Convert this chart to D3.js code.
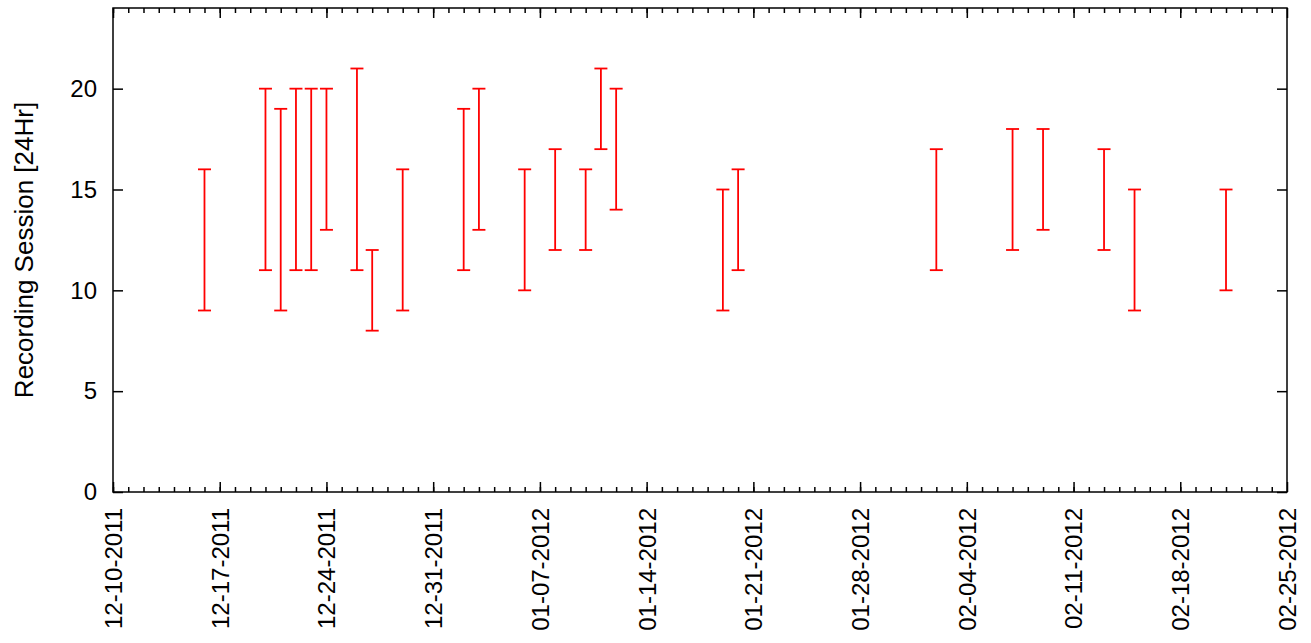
<!DOCTYPE html>
<html>
<head>
<meta charset="utf-8">
<script src="https://cdn.jsdelivr.net/npm/d3@7"></script>
<style>
  body { margin: 0; background: #fff; }
  svg { display: block; font-family: "Liberation Sans", Arial, sans-serif; }
  .axis path, .axis line { stroke: #000; stroke-width: 1.5; }
  .axis text { fill: #000; font-size: 24px; }
</style>
</head>
<body>
<div id="chart-area"></div>
<script>
// session days and their start / end hour
var days = ["12-16-2011", "12-20-2011", "12-21-2011", "12-22-2011", "12-23-2011", "12-24-2011",
    "12-26-2011", "12-27-2011", "12-29-2011", "01-02-2012", "01-03-2012", "01-06-2012",
    "01-08-2012", "01-10-2012", "01-11-2012", "01-12-2012", "01-19-2012", "01-20-2012",
    "02-02-2012", "02-07-2012", "02-09-2012", "02-13-2012", "02-15-2012", "02-21-2012"]
var startHour = [9, 11, 9, 11, 11, 13, 11, 8, 9, 11, 13, 10, 12, 12, 17, 14, 9, 11, 11, 12, 13, 12, 9, 10]
var endHour = [16, 20, 19, 20, 20, 20, 21, 12, 16, 19, 20, 16, 17, 16, 21, 20, 15, 16, 17, 18, 18, 17, 15, 15]

var xTickLabels = ["12-10-2011", "12-17-2011", "12-24-2011", "12-31-2011", "01-07-2012", "01-14-2012",
    "01-21-2012", "01-28-2012", "02-04-2012", "02-11-2012", "02-18-2012", "02-25-2012"]
var yTicks = [0, 5, 10, 15, 20]

var width = 1311,
    height = 643,
    margin = {left: 113, right: 24, top: 8, bottom: 151}

var parse = d3.utcParse("%m-%d-%Y"),
    fmt = d3.utcFormat("%m-%d-%Y")

var svg = d3.select("#chart-area").append("svg")
    .attr("width", width)
    .attr("height", height)

var x = d3.scaleUtc()
    .domain([parse(xTickLabels[0]), parse(xTickLabels[xTickLabels.length - 1])])
    .range([margin.left, width - margin.right])

var y = d3.scaleLinear()
    .domain([0, 24])
    .range([height - margin.bottom, margin.top])

var majorTicks = xTickLabels.map(parse)
var minorTicks = d3.utcDay.range(x.domain()[0], x.domain()[1])

// minor day ticks, bottom and top
svg.append("g")
    .attr("class", "axis")
    .attr("transform", "translate(0," + y(0) + ")")
    .call(d3.axisBottom(x).tickValues(minorTicks).tickSize(-5).tickFormat(""))
    .select(".domain").remove()
svg.append("g")
    .attr("class", "axis")
    .attr("transform", "translate(0," + y(24) + ")")
    .call(d3.axisTop(x).tickValues(minorTicks).tickSize(-5).tickFormat(""))
    .select(".domain").remove()

// major week ticks with labels
var xAxis = svg.append("g")
    .attr("class", "axis")
    .attr("transform", "translate(0," + y(0) + ")")
    .call(d3.axisBottom(x).tickValues(majorTicks).tickSize(-10).tickSizeOuter(0).tickFormat(fmt))
xAxis.select(".domain").remove()
xAxis.selectAll("text")
    .attr("text-anchor", "end")
    .attr("transform", "rotate(-90)")
    .attr("x", -16)
    .attr("y", 0)
    .attr("dy", "0.35em")

svg.append("g")
    .attr("class", "axis")
    .attr("transform", "translate(0," + y(24) + ")")
    .call(d3.axisTop(x).tickValues(majorTicks).tickSize(-10).tickFormat(""))
    .select(".domain").remove()

// y axes
var yAxis = svg.append("g")
    .attr("class", "axis")
    .attr("transform", "translate(" + margin.left + ",0)")
    .call(d3.axisLeft(y).tickValues(yTicks).tickSize(-10).tickPadding(16))
yAxis.select(".domain").remove()

svg.append("g")
    .attr("class", "axis")
    .attr("transform", "translate(" + (width - margin.right) + ",0)")
    .call(d3.axisRight(y).tickValues(yTicks).tickSize(-10).tickFormat(""))
    .select(".domain").remove()

// frame
svg.append("rect")
    .attr("x", margin.left)
    .attr("y", margin.top)
    .attr("width", width - margin.left - margin.right)
    .attr("height", height - margin.top - margin.bottom)
    .attr("fill", "none")
    .attr("stroke", "#000")
    .attr("stroke-width", 1.5)

svg.append("text")
    .attr("transform", "translate(33," + ((y(0) + y(24)) / 2) + ") rotate(-90)")
    .attr("text-anchor", "middle")
    .attr("font-size", 26)
    .text("Recording Session [24Hr]")

// error bars
var sessions = days.map(function(d, i) {
    return {day: parse(d), start: startHour[i], end: endHour[i]}
})
var cap = 6.5

var bars = svg.append("g")
    .attr("stroke", "#ff0000")
    .attr("stroke-width", 1.8)
    .attr("fill", "none")
    .selectAll("g")
    .data(sessions)
    .enter().append("g")

bars.append("line")
    .attr("x1", function(d) { return x(d.day) })
    .attr("x2", function(d) { return x(d.day) })
    .attr("y1", function(d) { return y(d.start) })
    .attr("y2", function(d) { return y(d.end) })
bars.append("line")
    .attr("x1", function(d) { return x(d.day) - cap })
    .attr("x2", function(d) { return x(d.day) + cap })
    .attr("y1", function(d) { return y(d.start) })
    .attr("y2", function(d) { return y(d.start) })
bars.append("line")
    .attr("x1", function(d) { return x(d.day) - cap })
    .attr("x2", function(d) { return x(d.day) + cap })
    .attr("y1", function(d) { return y(d.end) })
    .attr("y2", function(d) { return y(d.end) })
</script>
</body>
</html>
